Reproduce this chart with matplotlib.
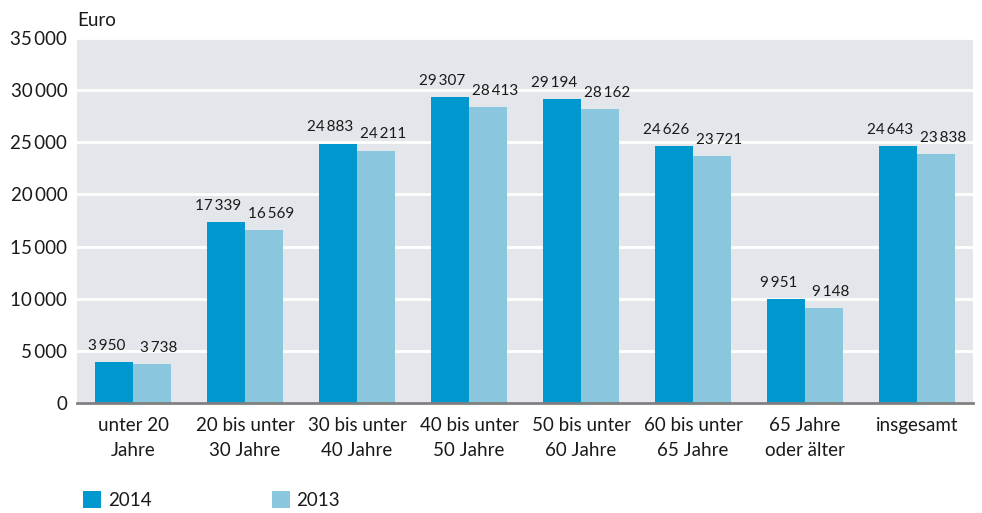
import matplotlib
matplotlib.use("Agg")
import matplotlib.pyplot as plt
from matplotlib.patches import Rectangle

plt.rcParams['font.family'] = ['Lato', 'DejaVu Sans']

categories = ["unter 20\nJahre", "20 bis unter\n30 Jahre", "30 bis unter\n40 Jahre",
              "40 bis unter\n50 Jahre", "50 bis unter\n60 Jahre", "60 bis unter\n65 Jahre",
              "65 Jahre\noder älter", "insgesamt"]
values_2014 = [3950, 17339, 24883, 29307, 29194, 24626, 9951, 24643]
values_2013 = [3738, 16569, 24211, 28413, 28162, 23721, 9148, 23838]
series_names = ["2014", "2013"]
yticks = [0, 5000, 10000, 15000, 20000, 25000, 30000, 35000]

c14 = "#0098cf"
c13 = "#8ac7df"
bg = "#e3e7eb"
tc = "#1a1a1a"

def fmt(v):
    return f"{v:,}".replace(",", "\u2009")

fig = plt.figure(figsize=(9.82, 5.13), dpi=100)
ax = fig.add_axes([77/982, 1 - 403/513, (973-77)/982, (403-38)/513])
ax.set_facecolor(bg)
w = 0.34
x = list(range(len(categories)))
ax.bar([i - w/2 for i in x], values_2014, width=w, color=c14, zorder=3)
ax.bar([i + w/2 for i in x], values_2013, width=w, color=c13, zorder=3)
for i in x:
    ax.annotate(fmt(values_2014[i]), (i - w/2, values_2014[i]), xytext=(-5.5, 6.5),
                textcoords="offset points", ha="center", va="bottom", fontsize=11, color=tc)
    ax.annotate(fmt(values_2013[i]), (i + w/2, values_2013[i]), xytext=(5, 6.5),
                textcoords="offset points", ha="center", va="bottom", fontsize=11, color=tc)

ax.set_xlim(-0.5, len(categories) - 0.5)
ax.set_ylim(0, 35000)
ax.set_yticks(yticks)
ax.set_yticklabels([fmt(v) for v in yticks], fontsize=13.5, color=tc)
ax.set_xticks(x)
ax.set_xticklabels(categories, fontsize=13.5, color=tc, linespacing=1.55)
ax.tick_params(axis="both", length=0)
ax.tick_params(axis="x", pad=10)
ax.tick_params(axis="y", pad=7)
ax.grid(axis="y", color="white", linewidth=2, zorder=1)
for s in ["top", "right", "left"]:
    ax.spines[s].set_visible(False)
ax.spines["bottom"].set_color("#808080")
ax.spines["bottom"].set_linewidth(2)
ax.spines["bottom"].set_zorder(4)

fig.text(77/982, 1 - 20/513, "Euro", fontsize=13.5, ha="left", va="center", color=tc)

# legend
fig.patches.append(Rectangle((83/982, 1 - 508/513), 18/982, 17/513, transform=fig.transFigure,
                             facecolor=c14, edgecolor="none"))
fig.text(108/982, 1 - 500/513, series_names[0], fontsize=13.5, va="center", color=tc)
fig.patches.append(Rectangle((272/982, 1 - 508/513), 18/982, 17/513, transform=fig.transFigure,
                             facecolor=c13, edgecolor="none"))
fig.text(296/982, 1 - 500/513, series_names[1], fontsize=13.5, va="center", color=tc)

fig.savefig("out.png", dpi=100)
